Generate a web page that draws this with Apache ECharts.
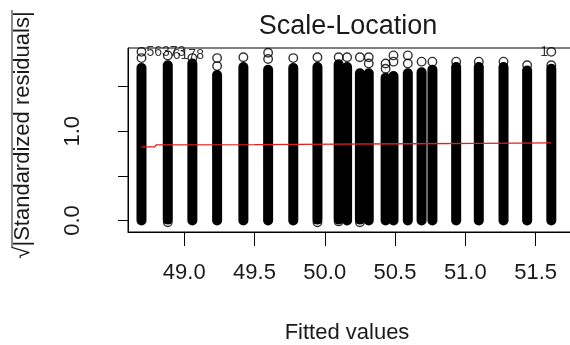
<!DOCTYPE html>
<html>
<head>
<meta charset="utf-8">
<script src="https://cdn.jsdelivr.net/npm/echarts@6/dist/echarts.min.js"></script>
<style>
  html, body { margin: 0; padding: 0; background: #fff; }
  #chart { width: 570px; height: 345px; }
</style>
</head>
<body>
<div id="chart"></div>
<script>
// fitted value of each column of points, and the range of its dense part
const fitted = [48.696, 48.883, 49.058, 49.234, 49.421, 49.597, 49.776, 49.948, 50.099, 50.159, 50.25,
  50.313, 50.433, 50.489, 50.591, 50.689, 50.766, 50.935, 51.096, 51.272, 51.44, 51.612];
const colLow = [0, 0.01, 0, 0, 0, 0, 0, 0.01, 0.01, 0, 0.01, 0, 0, 0, 0, 0, 0, 0, 0, 0, 0, 0];
const colHigh = [1.71, 1.74, 1.76, 1.63, 1.72, 1.69, 1.71, 1.72, 1.75, 1.72, 1.65, 1.65, 1.60, 1.62,
  1.65, 1.66, 1.69, 1.72, 1.72, 1.72, 1.68, 1.70];

// single points standing out of the columns
const outX = [48.696, 48.696, 48.883, 49.058, 49.234, 49.234, 49.421, 49.597, 49.597, 49.776, 49.948,
  50.099, 50.159, 50.25, 50.313, 50.313, 50.433, 50.433, 50.489, 50.489, 50.591, 50.591, 50.689,
  50.766, 50.935, 51.096, 51.272, 51.44, 51.612, 51.612,
  48.883, 49.948, 50.099, 50.25];
const outY = [1.89, 1.82, 1.85, 1.82, 1.82, 1.73, 1.83, 1.88, 1.81, 1.82, 1.83, 1.83, 1.83, 1.83,
  1.83, 1.76, 1.76, 1.70, 1.85, 1.78, 1.85, 1.76, 1.78, 1.78, 1.78, 1.78, 1.78, 1.74, 1.89, 1.74,
  -0.02, -0.02, -0.01, -0.02];

// identified observations
const idLabels = ['56373', '6178', '1'];
const idX = [48.696, 48.883, 51.612];
const idY = [1.89, 1.85, 1.89];

// smoother
const smoothX = [48.696, 48.79, 48.80, 49.5, 50.1, 50.6, 51.1, 51.612];
const smoothY = [0.824, 0.824, 0.848, 0.851, 0.855, 0.86, 0.865, 0.87];

const xTicks = [49, 49.5, 50, 50.5, 51, 51.5];
const yTicks = [0, 0.5, 1, 1.5];
const yLabels = [0, 1];

const font = '"Liberation Sans", Arial, sans-serif';
const ink = '#1a1a1a';

const chart = echarts.init(document.getElementById('chart'));

chart.setOption({
  animation: false,
  grid: { left: 128, top: 48, right: -6, bottom: 113 },
  xAxis: {
    type: 'value', min: 48.6, max: 51.745,
    axisLine: { onZero: false, lineStyle: { color: '#000', width: 1 } },
    axisTick: { show: true, length: 14, customValues: xTicks, lineStyle: { color: '#000' } },
    axisLabel: {
      customValues: xTicks, margin: 30, fontSize: 22, fontFamily: font, color: ink,
      formatter: v => v.toFixed(1)
    },
    splitLine: { show: false }
  },
  yAxis: {
    type: 'value', min: -0.129, max: 1.933,
    axisLine: { show: true, onZero: false, lineStyle: { color: '#000', width: 1 } },
    axisTick: { show: true, length: 10, customValues: yTicks, lineStyle: { color: '#000' } },
    axisLabel: {
      customValues: yLabels, rotate: 90, margin: 44, fontSize: 22, fontFamily: font, color: ink,
      formatter: v => v.toFixed(1)
    },
    splitLine: { show: false }
  },
  graphic: [
    { type: 'rect', shape: { x: 128, y: 48, width: 460, height: 184 }, style: { fill: 'none', stroke: '#000', lineWidth: 1 }, silent: true },
    { type: 'text', x: 348, y: 27, style: { text: 'Scale-Location', font: '27px ' + font, fill: ink, textAlign: 'center', textVerticalAlign: 'middle' } },
    { type: 'text', x: 347, y: 333, style: { text: 'Fitted values', font: '22px ' + font, fill: ink, textAlign: 'center', textVerticalAlign: 'middle' } },
    { type: 'text', x: 23, y: 135, rotation: Math.PI / 2, style: { text: '\u221A|Standardized residuals|', font: '22px ' + font, fill: ink, textAlign: 'center', textVerticalAlign: 'middle' } },
    { type: 'line', shape: { x1: 12, y1: 10, x2: 12, y2: 248 }, style: { stroke: ink, lineWidth: 1 } }
  ],
  series: [
    {
      type: 'custom',
      data: fitted.map((x, i) => [x, colLow[i], colHigh[i]]),
      renderItem: function (params, api) {
        const top = api.coord([api.value(0), api.value(2)]);
        const bot = api.coord([api.value(0), api.value(1)]);
        return {
          type: 'rect',
          shape: { x: top[0] - 5, y: top[1] - 5, width: 10, height: bot[1] - top[1] + 10, r: 5 },
          style: { fill: '#000' }
        };
      }
    },
    {
      type: 'scatter',
      data: outX.map((x, i) => [x, outY[i]]),
      symbol: 'circle', symbolSize: 8.5,
      itemStyle: { color: 'rgba(0,0,0,0)', borderColor: '#000', borderWidth: 1.4 }
    },
    {
      type: 'scatter',
      data: idX.map((x, i) => ({ value: [x, idY[i]], name: idLabels[i] })),
      symbolSize: 0,
      label: {
        show: true, formatter: p => p.name, fontSize: 14, fontFamily: font, color: '#000',
        position: 'right'
      },
      labelLayout: p => p.dataIndex === 2 ? { dx: -16 } : { dx: 0 }
    },
    {
      type: 'line',
      data: smoothX.map((x, i) => [x, smoothY[i]]),
      showSymbol: false,
      lineStyle: { color: '#e02020', width: 1.3 }
    }
  ]
});
</script>
</body>
</html>
